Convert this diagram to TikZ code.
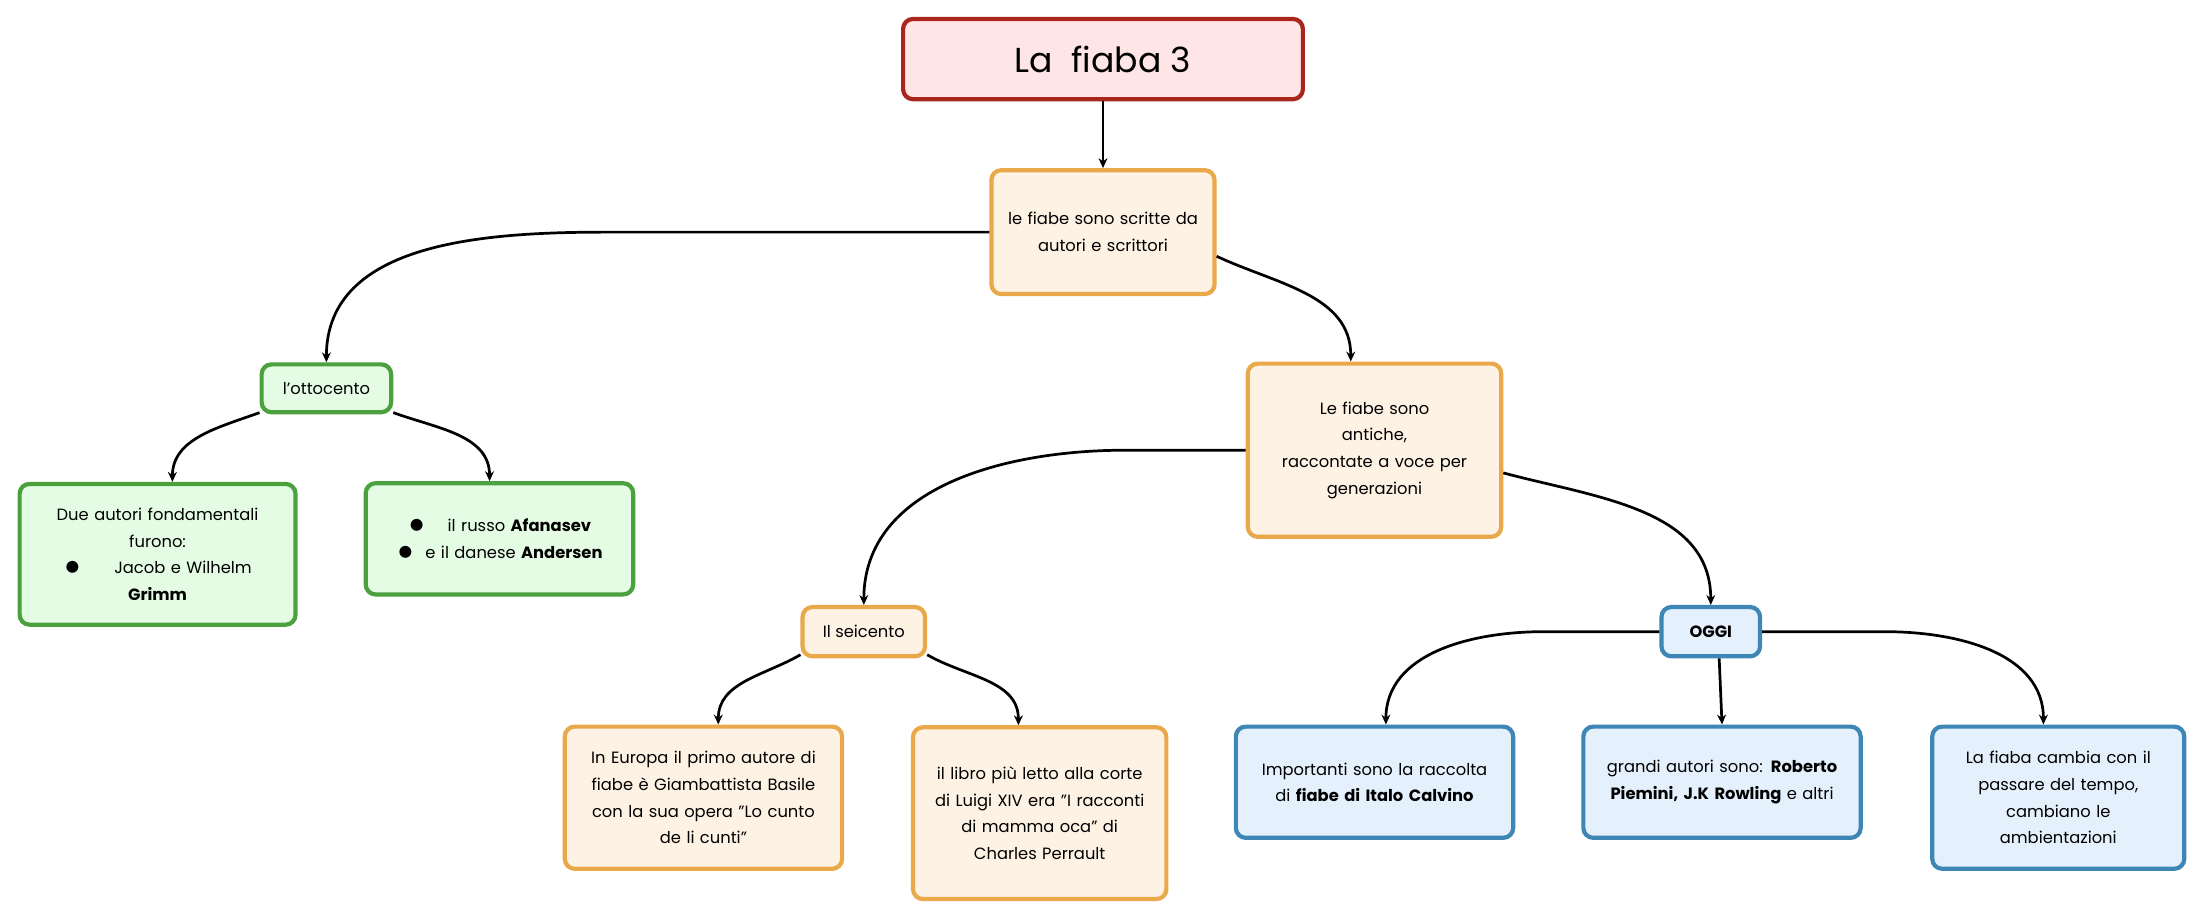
\documentclass[tikz,border=0pt]{standalone}
\usepackage{fontspec}
\setmainfont{Poppins}
\usetikzlibrary{arrows.meta}
\definecolor{redline}{HTML}{A8261C}
\definecolor{redfill}{HTML}{FFE6E6}
\definecolor{orline}{HTML}{E9A94B}
\definecolor{orfill}{HTML}{FDF2E4}
\definecolor{grline}{HTML}{4CA13F}
\definecolor{grfill}{HTML}{E4FCE4}
\definecolor{blline}{HTML}{3E86B5}
\definecolor{blfill}{HTML}{E4F1FC}
\tikzset{
  box/.style={rounded corners=2pt, line width=0.85pt, align=center, inner sep=1.5pt,
    font=\fontsize{3.3}{5.4}\selectfont},
  orbox/.style={box, draw=orline, fill=orfill},
  grbox/.style={box, draw=grline, fill=grfill},
  blbox/.style={box, draw=blline, fill=blfill},
  link/.style={-{Stealth[length=2pt,width=1.8pt]}, line width=0.55pt},
}
\begin{document}
\begin{tikzpicture}[x=0.01cm,y=0.01cm]
  \useasboundingbox (0,0) rectangle (1568,-655);

  \node[box, draw=redline, fill=redfill, minimum width=2.84cm, minimum height=0.57cm,
    font=\fontsize{7}{8}\selectfont] (title) at (784,-42) {La\ \ fiaba 3};
  \node[orbox, minimum width=1.56cm, minimum height=0.88cm, text width=1.48cm] (autori) at (784,-165)
    {le fiabe sono scritte da\\autori e scrittori};
  \node[grbox, minimum width=0.92cm, minimum height=0.34cm] (ottocento) at (232,-276) {l'ottocento};
  \node[orbox, minimum width=1.8cm, minimum height=1.23cm, text width=1.65cm] (antiche) at (977,-320)
    {Le fiabe sono\\antiche,\\raccontate a voce per\\generazioni};
  \node[grbox, minimum width=1.96cm, minimum height=1cm, text width=1.8cm] (grimm) at (112,-394)
    {Due autori fondamentali\\furono:\\$\bullet$\qquad Jacob e Wilhelm\\\textbf{Grimm}};
  \node[grbox, minimum width=1.9cm, minimum height=0.79cm, text width=1.75cm] (afanasev) at (355,-383)
    {$\bullet$\quad\ il russo \textbf{Afanasev}\\$\bullet$\ \ e il danese \textbf{Andersen}};
  \node[orbox, minimum width=0.87cm, minimum height=0.35cm] (seicento) at (614,-449) {Il seicento};
  \node[blbox, minimum width=0.7cm, minimum height=0.35cm] (oggi) at (1216,-449) {\textbf{OGGI}};
  \node[orbox, minimum width=1.97cm, minimum height=1.01cm, text width=1.8cm] (basile) at (500,-567)
    {In Europa il primo autore di\\fiabe è Giambattista Basile\\con la sua opera "Lo cunto\\de li cunti"};
  \node[orbox, minimum width=1.8cm, minimum height=1.22cm, text width=1.68cm] (perrault) at (739,-578)
    {il libro più letto alla corte\\di Luigi XIV era "I racconti\\di mamma oca" di\\Charles Perrault};
  \node[blbox, minimum width=1.97cm, minimum height=0.79cm, text width=1.82cm] (calvino) at (977,-556)
    {Importanti sono la raccolta\\di \textbf{fiabe di Italo Calvino}};
  \node[blbox, minimum width=1.97cm, minimum height=0.79cm, text width=1.85cm] (piemini) at (1224,-556)
    {grandi autori sono: \textbf{Roberto}\\\textbf{Piemini, J.K Rowling} e altri};
  \node[blbox, minimum width=1.79cm, minimum height=1.01cm, text width=1.6cm] (cambia) at (1463,-567)
    {La fiaba cambia con il\\passare del tempo,\\cambiano le\\ambientazioni};

  % connectors
  \coordinate (k1) at (432,-165);
  \coordinate (k2) at (800,-320);
  \coordinate (k3) at (1097,-449);
  \coordinate (k4) at (1340,-449);
  \draw[link] (title) -- (autori);
  \draw[link] (autori.west) -- (k1) to[out=180,in=90] (ottocento.north);
  \draw[link] (autori.-12) to[out=-25,in=90] ([xshift=-4.8pt]antiche.north);
  \draw[link] (ottocento.200) to[out=200,in=90] ([xshift=3pt]grimm.north);
  \draw[link] (ottocento.-20) to[out=-20,in=90] ([xshift=-2pt]afanasev.north);
  \draw[link] (antiche.west) -- (k2) to[out=180,in=90] (seicento.north);
  \draw[link] (antiche.-10) to[out=-15,in=90] (oggi.north);
  \draw[link] (seicento.200) to[out=210,in=90] ([xshift=3pt]basile.north);
  \draw[link] (seicento.-20) to[out=-30,in=90] ([xshift=-4.3pt]perrault.north);
  \draw[link] (oggi.west) -- (k3) to[out=180,in=90] ([xshift=2.3pt]calvino.north);
  \draw[link] ([xshift=1.7pt]oggi.south) -- (piemini.north);
  \draw[link] (oggi.east) -- (k4) to[out=0,in=90] ([xshift=-3pt]cambia.north);
\end{tikzpicture}
\end{document}
